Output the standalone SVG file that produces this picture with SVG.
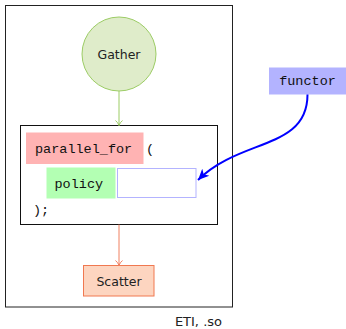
<svg xmlns="http://www.w3.org/2000/svg" width="346" height="329" viewBox="0 0 346 329">
<style>
.sans{font-family:"DejaVu Sans","Liberation Sans",sans-serif;font-size:12.5px;fill:#222}
.mono{font-family:"Liberation Mono","DejaVu Sans Mono",monospace;font-size:13.5px;fill:#111}
</style>
<defs>
<marker id="ag" markerWidth="10" markerHeight="10" refX="8" refY="5" orient="auto" markerUnits="userSpaceOnUse">
<path d="M3,1.5 Q5,4 8,5 Q5,6 3,8.5" fill="none" stroke="#9ccc65" stroke-width="1"/>
</marker>
<marker id="ao" markerWidth="10" markerHeight="10" refX="8" refY="5" orient="auto" markerUnits="userSpaceOnUse">
<path d="M3,1.5 Q5,4 8,5 Q5,6 3,8.5" fill="none" stroke="#f08060" stroke-width="1"/>
</marker>
<marker id="ab" markerWidth="14" markerHeight="14" refX="11" refY="6" orient="auto" markerUnits="userSpaceOnUse">
<path d="M0,1 L11,6 L0,11 L3,6 Z" fill="#0000ff"/>
</marker>
</defs>
<rect x="5.5" y="5.5" width="227" height="301.5" fill="none" stroke="#222" stroke-width="1"/>
<g id="gather">
<circle cx="119" cy="54" r="37" fill="#dfecca" stroke="#9ccc65" stroke-width="1"/>
<text class="sans" x="119" y="58.5" text-anchor="middle">Gather</text>
</g>
<g id="parallel">
<rect x="20.5" y="125.5" width="197" height="99" fill="#fff" stroke="#111" stroke-width="1"/>
<rect x="26" y="132.5" width="117.5" height="31.5" fill="#ffb3b3"/>
<text class="mono" x="35" y="152.5">parallel_for</text>
<text class="mono" x="146" y="152.5">(</text>
<text class="mono" x="33" y="214">);</text>
</g>
<g id="policy">
<rect x="46.5" y="167.5" width="69" height="31" fill="#b3ffb3"/>
<text class="mono" x="54.5" y="187.5">policy</text>
</g>
<g id="slot">
<rect x="117.5" y="168.5" width="78.5" height="29" fill="#fff" stroke="#b3b3ff" stroke-width="1"/>
</g>
<g id="scatter">
<rect x="83.5" y="265.5" width="70.5" height="30.5" fill="#fdd5c0" stroke="#f07850" stroke-width="1"/>
<text class="sans" x="119" y="285.5" text-anchor="middle">Scatter</text>
</g>
<g id="functor">
<rect x="269" y="67.5" width="77" height="27" fill="#b3b3ff"/>
<text class="mono" x="307.5" y="85" text-anchor="middle">functor</text>
</g>
<g id="connectors">
<line x1="119" y1="91" x2="119" y2="125.5" stroke="#9ccc65" stroke-width="1" marker-end="url(#ag)"/>
<line x1="119" y1="224.5" x2="119" y2="265.5" stroke="#f08060" stroke-width="1" marker-end="url(#ao)"/>
<path d="M307.5,94.5 C307.5,150 240,138 198,180" fill="none" stroke="#0000ff" stroke-width="2" marker-end="url(#ab)"/>
</g>
<text class="sans" x="222" y="326" text-anchor="end" style="font-size:13px">ETI, .so</text>
</svg>
